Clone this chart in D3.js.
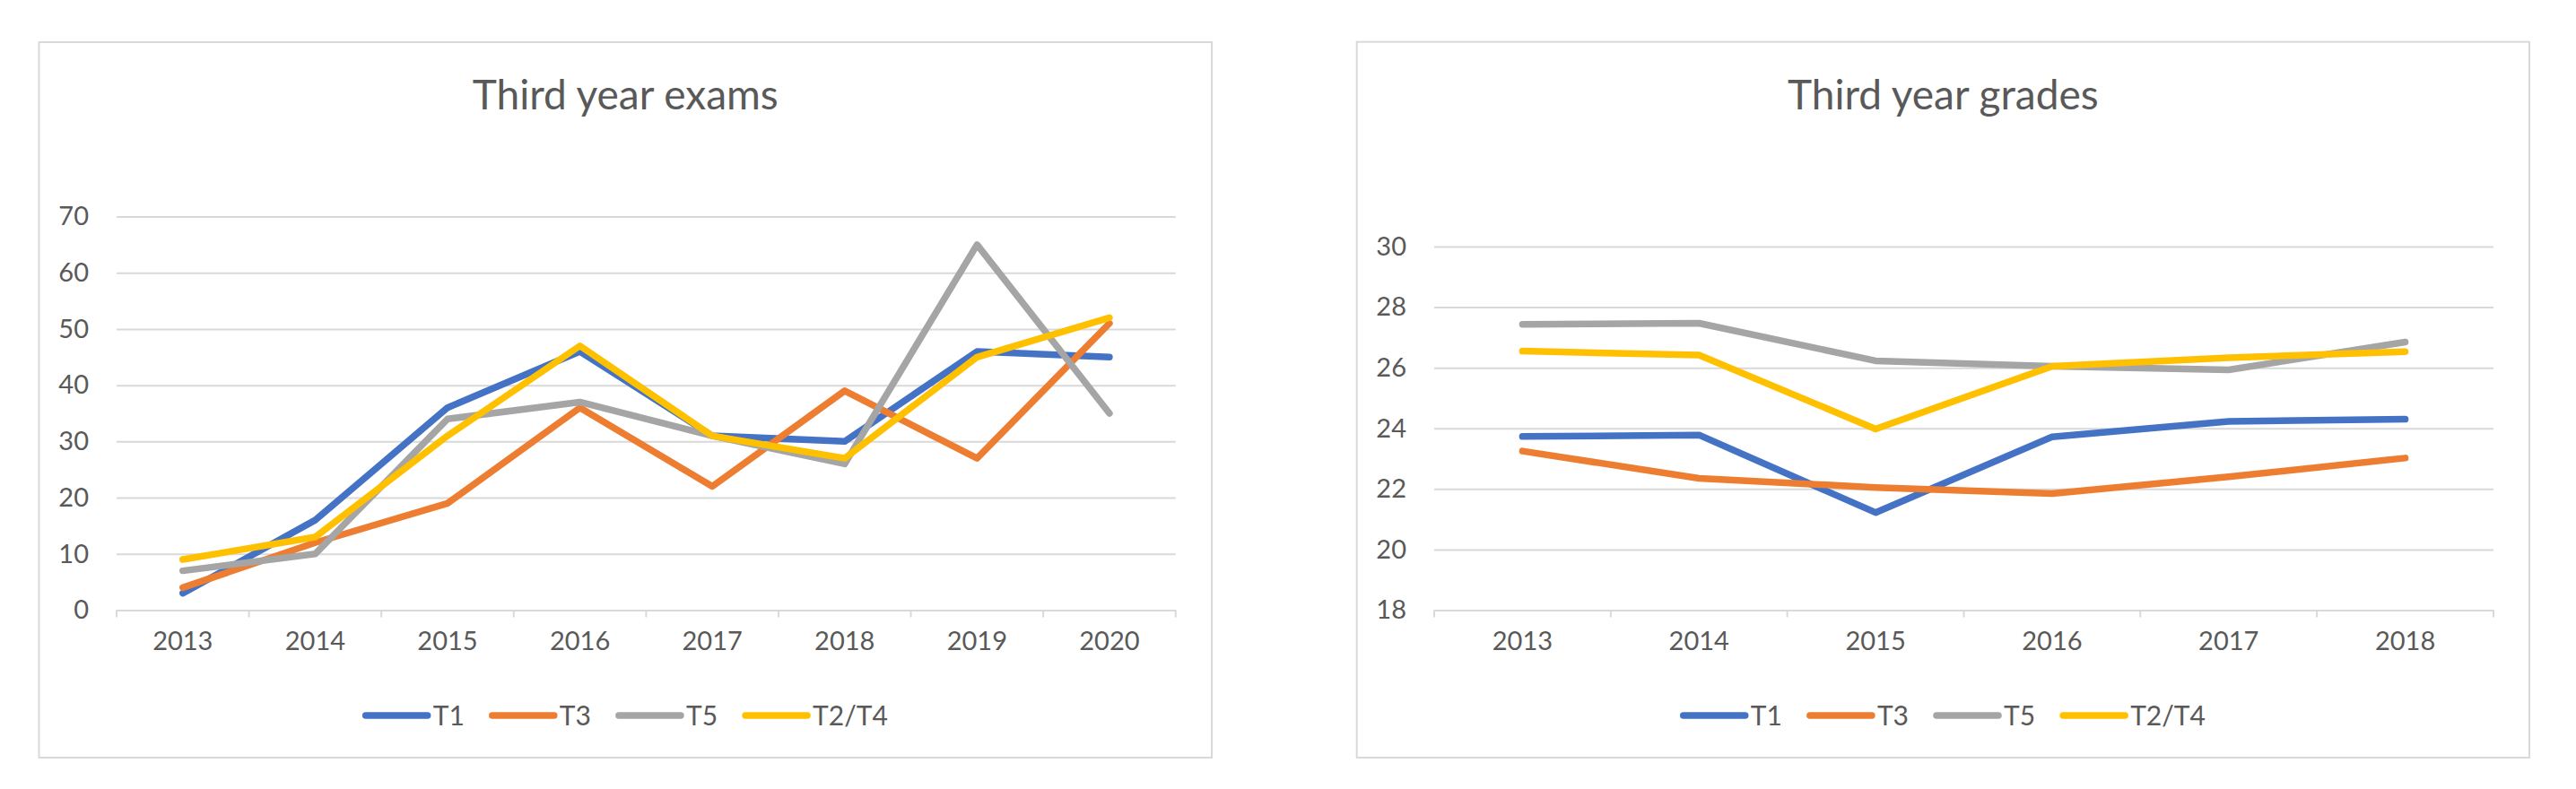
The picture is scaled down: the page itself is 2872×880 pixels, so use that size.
<!DOCTYPE html>
<html><head><meta charset="utf-8">
<script src="https://cdn.jsdelivr.net/npm/d3@7"></script>
<style>
body{margin:0;background:#fff;}
svg text{font-family:Lato,"Open Sans",sans-serif;fill:#595959;}
</style>
</head><body>
<svg id="c" width="2872" height="880"></svg>
<script>
// ---- data ----
const seriesNames = ["T1", "T3", "T5", "T2/T4"];
const seriesColors = ["#4472C4", "#ED7D31", "#A5A5A5", "#FFC000"];

const examTitle = "Third year exams";
const examYears = ["2013", "2014", "2015", "2016", "2017", "2018", "2019", "2020"];
const examT1   = [3, 16, 36, 46, 31, 30, 46, 45];
const examT3   = [4, 12, 19, 36, 22, 39, 27, 51];
const examT5   = [7, 10, 34, 37, 31, 26, 65, 35];
const examT2T4 = [9, 13, 31, 47, 31, 27, 45, 52];
const examTicks = [0, 10, 20, 30, 40, 50, 60, 70];

const gradeTitle = "Third year grades";
const gradeYears = ["2013", "2014", "2015", "2016", "2017", "2018"];
const gradeT1   = [23.73, 23.78, 21.22, 23.72, 24.23, 24.30];
const gradeT3   = [23.25, 22.35, 22.05, 21.85, 22.40, 23.02];
const gradeT5   = [27.43, 27.47, 26.23, 26.05, 25.93, 26.85];
const gradeT2T4 = [26.55, 26.42, 23.98, 26.05, 26.33, 26.53];
const gradeTicks = [18, 20, 22, 24, 26, 28, 30];

// ---- drawing ----
const svg = d3.select("#c");
const GRID = "#d9d9d9";

function drawChart(cfg) {
  const g = svg.append("g");
  // chart border
  g.append("rect")
    .attr("x", cfg.box[0]).attr("y", cfg.box[1])
    .attr("width", cfg.box[2] - cfg.box[0]).attr("height", cfg.box[3] - cfg.box[1])
    .attr("fill", "#fff").attr("stroke", GRID).attr("stroke-width", 2);
  const cx = (cfg.box[0] + cfg.box[2]) / 2;

  // title
  g.append("text").attr("x", cx).attr("y", 121.5)
    .attr("text-anchor", "middle").style("font-size", "46px").text(cfg.title);

  const x = d3.scaleBand().domain(cfg.years).range(cfg.xr).padding(0);
  const y = d3.scaleLinear().domain(cfg.yd).range(cfg.yr);

  // gridlines + y labels
  const yAxis = d3.axisLeft(y).tickValues(cfg.ticks)
    .tickSize(-(cfg.xr[1] - cfg.xr[0])).tickPadding(31).tickFormat(d3.format("d"));
  const ya = g.append("g").attr("transform", `translate(${cfg.xr[0]},0)`).call(yAxis);
  ya.select(".domain").remove();
  ya.selectAll(".tick line").attr("stroke", GRID).attr("stroke-width", 2);
  ya.selectAll(".tick text").style("font-size", "29px").attr("fill", "#595959");

  // x axis line + boundary ticks
  const y0 = cfg.yr[0];
  const xa = d3.axisBottom(x).tickSize(0).tickPadding(24);
  const xg = g.append("g").attr("transform", `translate(0,${y0})`).call(xa);
  xg.select(".domain").attr("stroke", GRID).attr("stroke-width", 2);
  xg.selectAll(".tick text").style("font-size", "29px").attr("fill", "#595959").attr("dy", "0.71em");
  const bounds = cfg.years.map(d => x(d)).concat([x.range()[1]]);
  g.selectAll(".bt").data(bounds).enter().append("line")
    .attr("x1", d => d).attr("x2", d => d).attr("y1", y0).attr("y2", y0 + 8)
    .attr("stroke", GRID).attr("stroke-width", 2);

  // series
  const line = d3.line().x((d, i) => x(cfg.years[i]) + x.bandwidth() / 2).y(d => y(d));
  cfg.series.forEach((s, k) => {
    g.append("path").datum(s).attr("d", line)
      .attr("fill", "none").attr("stroke", seriesColors[k]).attr("stroke-width", 7.5)
      .attr("stroke-linejoin", "round").attr("stroke-linecap", "round");
  });

  // legend
  const lg = g.append("g");
  let off = 0;
  seriesNames.forEach((n, k) => {
    lg.append("line").attr("x1", off + 3).attr("x2", off + 72).attr("y1", 798).attr("y2", 798)
      .attr("stroke", seriesColors[k]).attr("stroke-width", 7.5).attr("stroke-linecap", "round");
    const t = lg.append("text").attr("x", off + 78).attr("y", 798).attr("dy", "0.36em")
      .style("font-size", "30px").text(n);
    off += 78 + t.node().getComputedTextLength() + 28;
  });
  off -= 28;
  lg.attr("transform", `translate(${cx - off / 2},0)`);
}

drawChart({
  box: [43.5, 47, 1351, 845], title: examTitle, years: examYears,
  xr: [130, 1310.7], yd: [0, 70], yr: [680.5, 241.5], ticks: examTicks,
  series: [examT1, examT3, examT5, examT2T4]
});
drawChart({
  box: [1512.7, 46.7, 2820, 845], title: gradeTitle, years: gradeYears,
  xr: [1599, 2780], yd: [18, 30], yr: [680.5, 275], ticks: gradeTicks,
  series: [gradeT1, gradeT3, gradeT5, gradeT2T4]
});
</script>
</body></html>
